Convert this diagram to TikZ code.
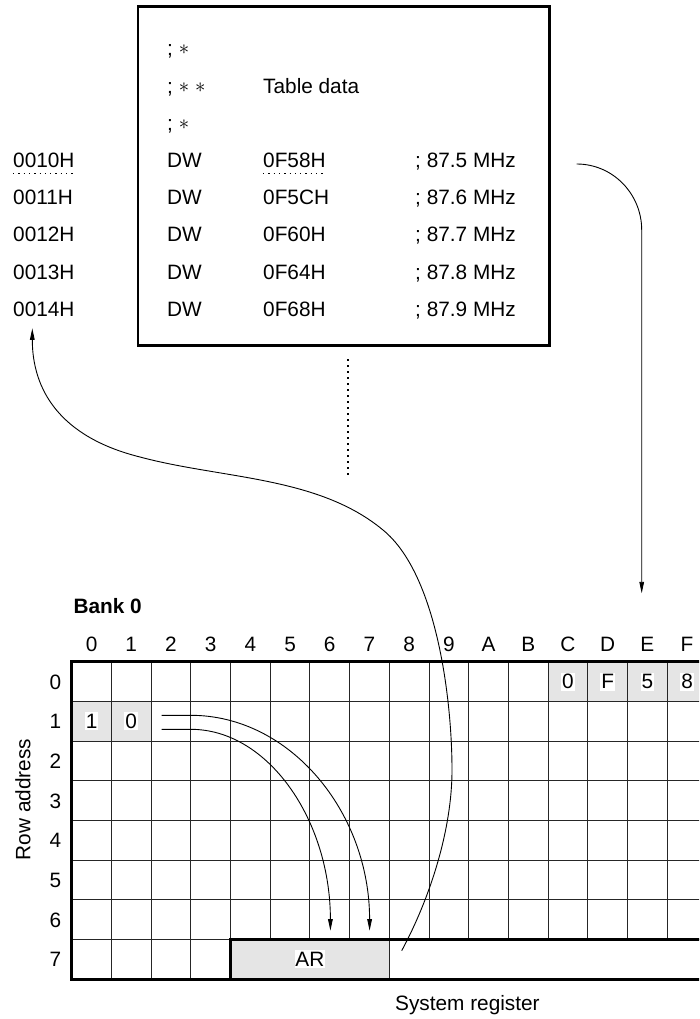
\documentclass[tikz,border=0pt]{standalone}
\usepackage{fontspec}
\setmainfont{Liberation Sans}
\usetikzlibrary{arrows.meta,calc}
\newcommand\fsz{\fontsize{20.8}{25}\selectfont}
\newcommand\astk{\raisebox{1pt}{\fontsize{21}{21}\selectfont$\ast$}}
\definecolor{cellgray}{gray}{0.9}
\begin{document}
\begin{tikzpicture}[x=1pt,y=-1pt,line join=miter,
  txt/.style={inner sep=0pt,anchor=base west,font=\fsz},
  ctr/.style={inner sep=0pt,anchor=base,font=\fsz},
  lbl/.style={fill=white,inner xsep=1pt,inner ysep=1pt,text height=15pt,text depth=1pt,font=\fsz},
  gridline/.style={line width=0.9pt,draw=black!85},
  heavyline/.style={line width=2.6pt},
  conn/.style={line width=0.9pt},
  arrowtip/.style={-{Triangle[length=11.5pt,width=4.6pt]}},
  udots/.style={line width=1.3pt,dash pattern=on 1.3pt off 4pt},
  vdots/.style={line width=1.8pt,dash pattern=on 1.8pt off 4.2pt}]
\useasboundingbox (0,0) rectangle (699,1019);
\clip (0,0) rectangle (699,1019);

% ---------- program listing box ----------
\node[draw,line width=2.6pt,inner sep=0pt,minimum width=411.3pt,minimum height=338.5pt,anchor=north west] (tbl) at (136.7,5.5) {};
\node[txt] (s1) at (167,55.9) {; \astk};
\node[txt] (s2) at (167,93.1) {; \astk\hspace{6pt}\astk};
\node[txt] (td) at (263,93.1) {Table data};
\node[txt] (s3) at (167,130.3) {; \astk};
\foreach \ad/\op/\fr [count=\i from 0] in {0010H/0F58H/87.5,0011H/0F5CH/87.6,0012H/0F60H/87.7,0013H/0F64H/87.8,0014H/0F68H/87.9}{
  \node[txt] (a\i) at (13,{167.5+37.2*\i}) {\ad};
  \node[txt] (d\i) at (167,{167.5+37.2*\i}) {DW};
  \node[txt] (o\i) at (263,{167.5+37.2*\i}) {\op};
  \node[txt] (m\i) at (415,{167.5+37.2*\i}) {; \fr\ MHz};
}
\draw[udots] ($(a0.base west)+(0,5.8)$) -- ($(a0.base east)+(0,5.8)$);
\draw[udots] ($(o0.base west)+(0,5.8)$) -- ($(o0.base east)+(0,5.8)$);
\coordinate (vd1) at (348.3,359);
\coordinate (vd2) at (348.3,476);
\draw[vdots] (vd1) -- (vd2);

% ---------- Bank 0 grid ----------
\node[txt,font=\fsz\bfseries] (bank) at (73.3,613.3) {Bank 0};
\foreach \c [count=\i from 0] in {0,1,2,3,4,5,6,7,8,9,A,B,C,D,E,F}
  \node[ctr] (h\i) at ({91.55+39.7*\i},651.5) {\c};
\foreach \i in {0,...,7}
  \node[ctr] (r\i) at (55.3,{689+39.7*\i}) {\i};
\node[font=\fsz,inner sep=0pt,rotate=90,anchor=base] (ra) at (30.4,799.5) {Row address};

\fill[cellgray] (548.1,661.7) rectangle (711.9,701.4);
\fill[cellgray] (71.7,701.4) rectangle (151.1,741.1);
\fill[cellgray] (230.5,939.6) rectangle (389.3,979.3);

\foreach \k in {1,...,7}
  \draw[gridline] (71.7,{661.7+39.7*\k}) -- (711.9,{661.7+39.7*\k});
\foreach \j in {1,...,15}
  \draw[gridline] ({71.7+39.7*\j},661.7) -- ({71.7+39.7*\j},939.6);
\foreach \j in {1,2,3,8}
  \draw[gridline] ({71.7+39.7*\j},939.6) -- ({71.7+39.7*\j},979.3);
\draw[heavyline] (711.9,661.7) -- (71.7,661.7) -- (71.7,979.3) -- (711.9,979.3);
\draw[heavyline] (711.9,939.6) -- (230.5,939.6) -- (230.5,979.3);

\node[lbl] (c12) at (567.95,681.55) {0};
\node[lbl] (c13) at (607.65,681.55) {F};
\node[lbl] (c14) at (647.35,681.55) {5};
\node[lbl] (c15) at (687.05,681.55) {8};
\node[lbl] (c0) at (91.55,721.25) {1};
\node[lbl] (c1) at (131.25,721.25) {0};
\node[lbl,inner xsep=0.5pt] (ar) at (309.9,959.45) {AR};
\node[txt] (sr) at (395,1010) {System register};

% ---------- connectors ----------
\coordinate (p1) at (161.7,715.3);
\coordinate (q1) at (369.6,930.7);
\coordinate (p2) at (161.7,729.3);
\coordinate (q2) at (330.4,930.7);
\draw[conn,arrowtip] (p1) -- (190.8,715.3) .. controls (290,715.3) and (369.6,812) .. (q1);
\draw[conn,arrowtip] (p2) -- (190.8,729.3) .. controls (268,729.3) and (330.4,820) .. (q2);

\coordinate (rs) at (576.7,164);
\coordinate (re) at (641.7,593.3);
\draw[conn,arrowtip] (rs) .. controls (613,164) and (641.7,194) .. (641.7,230) -- (re);

\coordinate (ls) at (401.7,950.7);
\coordinate (le) at (32.3,328.3);
\draw[conn,arrowtip] (ls) .. controls (430,898) and (452,830) .. (452,770)
  .. controls (452,700) and (437,574) .. (383,530)
  .. controls (318,476) and (222,479) .. (140,457)
  .. controls (60,437) and (32.3,390) .. (le);
\end{tikzpicture}
\end{document}
